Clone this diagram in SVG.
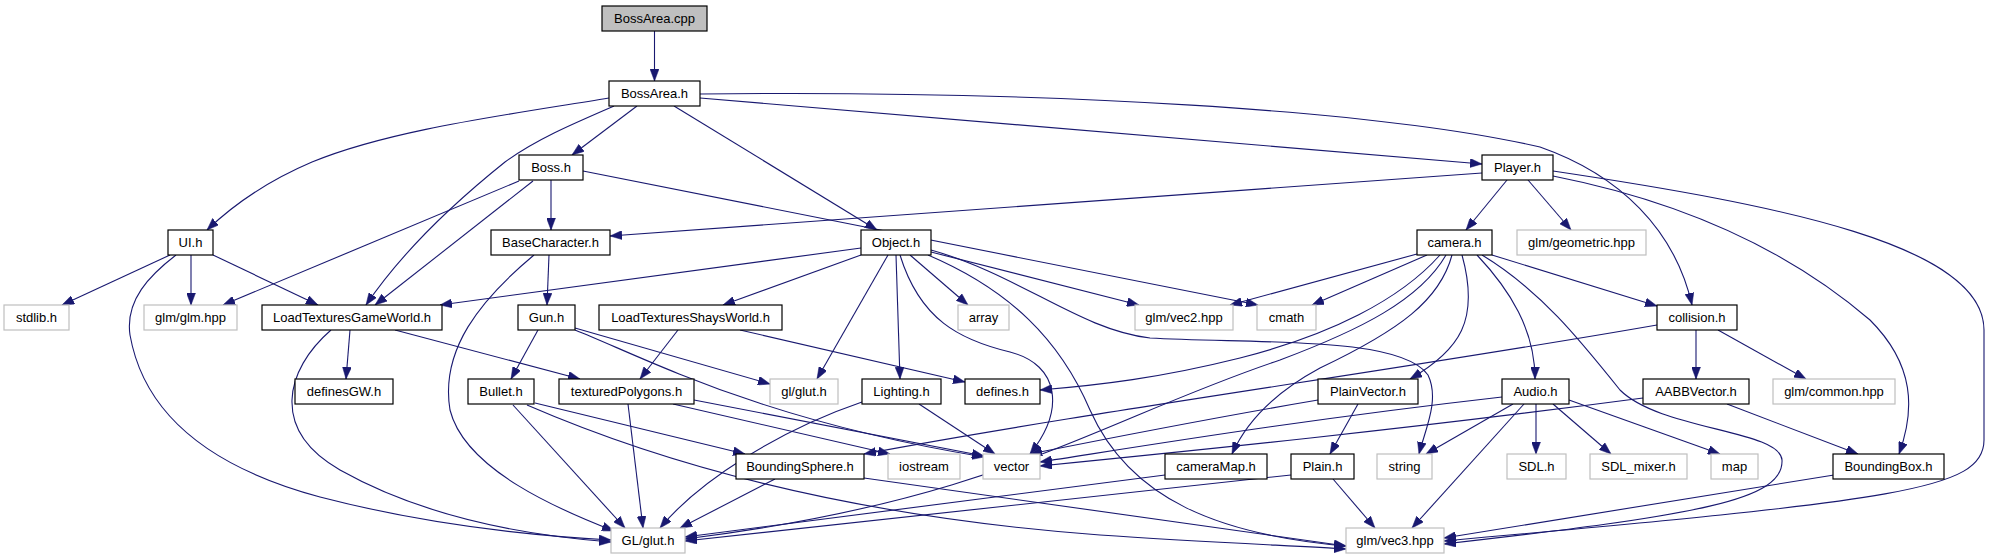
<svg xmlns="http://www.w3.org/2000/svg" width="1992" height="560" viewBox="0 0 1992 560">
<defs>
<style>
.n rect{fill:#fff;stroke:#000;stroke-width:1.2}
.s rect{fill:#fff;stroke:#bfbfbf;stroke-width:1.2}
.r rect{fill:#bfbfbf;stroke:#000;stroke-width:1.2}
text{font-family:"Liberation Sans",Arial,sans-serif;font-size:13px;fill:#000;text-anchor:middle}
.e path{fill:none;stroke:#191970;stroke-width:1.1;marker-end:url(#a)}
</style>
<marker id="a" markerWidth="12" markerHeight="9" refX="12" refY="4.5" orient="auto" markerUnits="userSpaceOnUse"><path d="M0,0 L12,4.5 L0,9 z" fill="#191970" stroke="#191970" stroke-width="0.5"/></marker>
</defs>
<rect width="1992" height="560" fill="#fff"/>
<g id="edges" class="e">
<path d="M654.5,31 L654.5,81"/>
<path d="M609,98 C 500,116 390,130 312,162 C 265,182 230,208 207,230"/>
<path d="M614,106 C 570,125 535,140 505,162 C 445,210 400,255 366,305"/>
<path d="M637,106 L572,155"/>
<path d="M674,106 L877,230"/>
<path d="M700,98 L1482,164"/>
<path d="M700,94 C 1050,90 1380,110 1540,147 C 1620,175 1675,230 1692,305"/>
<path d="M551,180 L551,230"/>
<path d="M519,181 L223,305"/>
<path d="M533,181 L375,305"/>
<path d="M583,171 L1258,305"/>
<path d="M1482,173 L610,236"/>
<path d="M1507,180 L1466,230"/>
<path d="M1528,180 L1571,230"/>
<path d="M1553,176 C 1700,205 1800,260 1870,320 C 1915,365 1915,410 1899,454"/>
<path d="M1553,171 C 1780,205 1984,245 1984,330 L1984,440 C 1984,490 1900,500 1444,541"/>
<path d="M170,255 L62,305"/>
<path d="M191,255 L191,305"/>
<path d="M213,255 L318,305"/>
<path d="M176,255 C 150,275 125,300 130,335 C 145,420 220,470 320,497 C 420,523 520,535 611,540"/>
<path d="M549,255 L547,305"/>
<path d="M534,255 C 480,300 440,350 450,410 C 465,470 560,510 614,531"/>
<path d="M861,248 L440,305"/>
<path d="M861,255 L723,305"/>
<path d="M910,255 L968,305"/>
<path d="M931,252 L1139,305"/>
<path d="M888,255 L817,379"/>
<path d="M896,255 L900,379"/>
<path d="M900,255 C 920,320 960,340 1010,352 C 1060,365 1065,410 1030,454"/>
<path d="M928,255 C 1010,290 1060,340 1090,410 C 1130,500 1220,535 1346,546"/>
<path d="M931,250 C 1020,275 1080,330 1150,338 C 1250,344 1400,335 1428,375 C 1440,400 1425,430 1419,454"/>
<path d="M1417,254 L1230,305"/>
<path d="M1427,255 L1312,305"/>
<path d="M1492,255 L1657,306"/>
<path d="M1440,255 C 1400,300 1330,335 1240,358 C 1160,378 1100,385 1040,390"/>
<path d="M1446,255 C 1420,300 1360,330 1280,360 C 1100,420 1000,500 685,539"/>
<path d="M1462,255 C 1480,320 1460,350 1410,379"/>
<path d="M1452,255 C 1440,300 1400,330 1320,368 C 1270,395 1245,425 1232,454"/>
<path d="M1477,255 C 1510,290 1535,330 1535,379"/>
<path d="M1482,255 C 1540,290 1580,340 1620,390 C 1660,430 1780,430 1782,460 C 1784,500 1700,515 1444,544"/>
<path d="M350,330 L346,379"/>
<path d="M395,330 L580,379"/>
<path d="M331,330 C 285,370 270,430 340,470 C 420,515 520,535 611,542"/>
<path d="M538,330 L511,379"/>
<path d="M575,328 L770,384"/>
<path d="M575,330 C 650,360 760,420 984,457"/>
<path d="M678,330 L640,379"/>
<path d="M740,330 L965,382"/>
<path d="M1696,330 L1696,379"/>
<path d="M1718,330 L1806,379"/>
<path d="M1657,325 C 1400,370 1100,410 864,454"/>
<path d="M535,403 L745,454"/>
<path d="M513,405 L625,528"/>
<path d="M527,405 C 700,480 900,520 1100,535 C 1200,542 1300,546 1346,549"/>
<path d="M628,404 L643,528"/>
<path d="M673,404 L890,454"/>
<path d="M694,400 C 800,420 900,440 984,456"/>
<path d="M862,402 C 780,430 700,480 660,528"/>
<path d="M919,404 L995,454"/>
<path d="M1358,404 L1330,454"/>
<path d="M1318,400 C 1200,420 1100,440 1030,454"/>
<path d="M1513,404 L1426,454"/>
<path d="M1536,404 L1536,454"/>
<path d="M1553,404 L1611,454"/>
<path d="M1569,400 L1720,454"/>
<path d="M1524,404 L1412,528"/>
<path d="M1502,397 C 1300,420 1150,445 1040,462"/>
<path d="M1727,404 L1858,454"/>
<path d="M1643,398 C 1400,430 1200,450 1040,466"/>
<path d="M775,479 L680,528"/>
<path d="M864,478 L1346,546"/>
<path d="M1165,475 L685,537"/>
<path d="M1291,475 L685,541"/>
<path d="M1333,479 L1375,528"/>
<path d="M1834,475 L1444,538"/>
</g>
<g id="n_bossarea_cpp" class="r"><rect x="602" y="6" width="105" height="25"/><text x="654.5" y="23">BossArea.cpp</text></g>
<g id="n_bossarea_h" class="n"><rect x="609" y="81" width="91" height="25"/><text x="654.5" y="98">BossArea.h</text></g>
<g id="n_boss_h" class="n"><rect x="519" y="155" width="64" height="25"/><text x="551" y="172">Boss.h</text></g>
<g id="n_player_h" class="n"><rect x="1482" y="155" width="71" height="25"/><text x="1517.5" y="172">Player.h</text></g>
<g id="n_ui_h" class="n"><rect x="168" y="230" width="45" height="25"/><text x="190.5" y="247">UI.h</text></g>
<g id="n_basecharacter_h" class="n"><rect x="491" y="230" width="119" height="25"/><text x="550.5" y="247">BaseCharacter.h</text></g>
<g id="n_object_h" class="n"><rect x="861" y="230" width="70" height="25"/><text x="896" y="247">Object.h</text></g>
<g id="n_camera_h" class="n"><rect x="1417" y="230" width="75" height="25"/><text x="1454.5" y="247">camera.h</text></g>
<g id="n_glm_geometric" class="s"><rect x="1517" y="230" width="129" height="25"/><text x="1581.5" y="247">glm/geometric.hpp</text></g>
<g id="n_stdlib" class="s"><rect x="4" y="305" width="65" height="25"/><text x="36.5" y="322">stdlib.h</text></g>
<g id="n_glm_glm" class="s"><rect x="144" y="305" width="93" height="25"/><text x="190.5" y="322">glm/glm.hpp</text></g>
<g id="n_ltgw" class="n"><rect x="262" y="305" width="180" height="25"/><text x="352" y="322">LoadTexturesGameWorld.h</text></g>
<g id="n_gun_h" class="n"><rect x="518" y="305" width="57" height="25"/><text x="546.5" y="322">Gun.h</text></g>
<g id="n_ltsw" class="n"><rect x="599" y="305" width="183" height="25"/><text x="690.5" y="322">LoadTexturesShaysWorld.h</text></g>
<g id="n_array" class="s"><rect x="958" y="305" width="51" height="25"/><text x="983.5" y="322">array</text></g>
<g id="n_glm_vec2" class="s"><rect x="1135" y="305" width="98" height="25"/><text x="1184" y="322">glm/vec2.hpp</text></g>
<g id="n_cmath" class="s"><rect x="1257" y="305" width="59" height="25"/><text x="1286.5" y="322">cmath</text></g>
<g id="n_collision_h" class="n"><rect x="1657" y="305" width="80" height="25"/><text x="1697" y="322">collision.h</text></g>
<g id="n_definesgw_h" class="n"><rect x="295" y="379" width="98" height="25"/><text x="344" y="396">definesGW.h</text></g>
<g id="n_bullet_h" class="n"><rect x="468" y="379" width="66" height="25"/><text x="501" y="396">Bullet.h</text></g>
<g id="n_texturedpolygons_h" class="n"><rect x="559" y="379" width="135" height="25"/><text x="626.5" y="396">texturedPolygons.h</text></g>
<g id="n_gl_glut_lower" class="s"><rect x="770" y="379" width="68" height="25"/><text x="804" y="396">gl/glut.h</text></g>
<g id="n_lighting_h" class="n"><rect x="862" y="379" width="79" height="25"/><text x="901.5" y="396">Lighting.h</text></g>
<g id="n_defines_h" class="n"><rect x="965" y="379" width="75" height="25"/><text x="1002.5" y="396">defines.h</text></g>
<g id="n_plainvector_h" class="n"><rect x="1318" y="379" width="100" height="25"/><text x="1368" y="396">PlainVector.h</text></g>
<g id="n_audio_h" class="n"><rect x="1502" y="379" width="67" height="25"/><text x="1535.5" y="396">Audio.h</text></g>
<g id="n_aabbvector_h" class="n"><rect x="1643" y="379" width="106" height="25"/><text x="1696" y="396">AABBVector.h</text></g>
<g id="n_glm_common" class="s"><rect x="1773" y="379" width="122" height="25"/><text x="1834" y="396">glm/common.hpp</text></g>
<g id="n_boundingsphere_h" class="n"><rect x="736" y="454" width="128" height="25"/><text x="800" y="471">BoundingSphere.h</text></g>
<g id="n_iostream" class="s"><rect x="888" y="454" width="72" height="25"/><text x="924" y="471">iostream</text></g>
<g id="n_vector" class="s"><rect x="983" y="454" width="57" height="25"/><text x="1011.5" y="471">vector</text></g>
<g id="n_cameramap_h" class="n"><rect x="1165" y="454" width="102" height="25"/><text x="1216" y="471">cameraMap.h</text></g>
<g id="n_plain_h" class="n"><rect x="1291" y="454" width="63" height="25"/><text x="1322.5" y="471">Plain.h</text></g>
<g id="n_string" class="s"><rect x="1377" y="454" width="55" height="25"/><text x="1404.5" y="471">string</text></g>
<g id="n_sdl_h" class="s"><rect x="1507" y="454" width="59" height="25"/><text x="1536.5" y="471">SDL.h</text></g>
<g id="n_sdl_mixer_h" class="s"><rect x="1590" y="454" width="97" height="25"/><text x="1638.5" y="471">SDL_mixer.h</text></g>
<g id="n_map" class="s"><rect x="1711" y="454" width="47" height="25"/><text x="1734.5" y="471">map</text></g>
<g id="n_boundingbox_h" class="n"><rect x="1833" y="454" width="111" height="25"/><text x="1888.5" y="471">BoundingBox.h</text></g>
<g id="n_gl_glut_upper" class="s"><rect x="611" y="528" width="74" height="25"/><text x="648" y="545">GL/glut.h</text></g>
<g id="n_glm_vec3" class="s"><rect x="1346" y="528" width="98" height="25"/><text x="1395" y="545">glm/vec3.hpp</text></g>
</svg>
